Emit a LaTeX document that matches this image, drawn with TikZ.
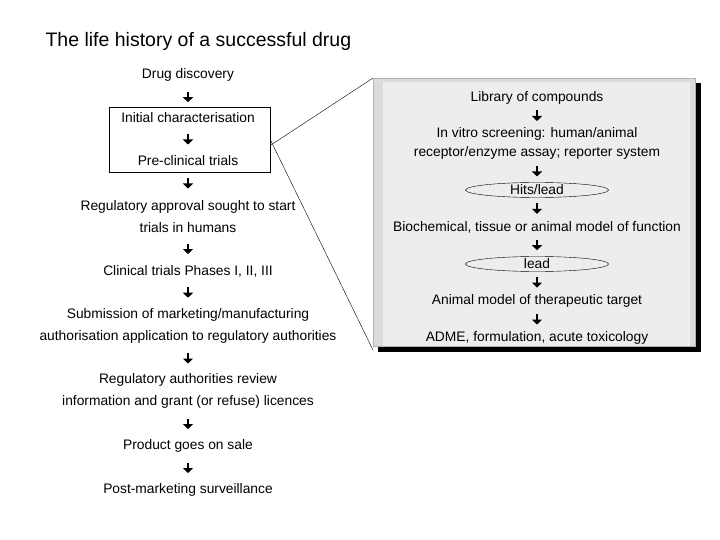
\documentclass[tikz,border=0pt]{standalone}
\usepackage{fontspec}
\setmainfont{Liberation Sans}
\usetikzlibrary{arrows.meta,shapes.geometric,calc}
\begin{document}
\begin{tikzpicture}[x=1pt,y=-1pt,
  t/.style={font=\fontsize{13.8}{22}\selectfont,align=center,inner sep=1pt},
  ell/.style={draw,ellipse,minimum width=143pt,minimum height=15pt,inner sep=0pt,font=\fontsize{13.8}{15}\selectfont}]
\tikzset{arr/.style 2 args={}}
\newcommand{\myarr}[2]{\draw[line width=2.6pt,-{Triangle[length=5pt,width=10pt]}] ($($(#1.south)!0.5!(#2.north)$)+(0,-5.5)$) -- ($($(#1.south)!0.5!(#2.north)$)+(0,5)$);}
\useasboundingbox (0,0) rectangle (720,540);
\node[anchor=west,font=\fontsize{19.5}{22}\selectfont] (title) at (42,41) {The life history of a successful drug};
% right panel
\fill[black] (378,83) rectangle (701,352);
\fill[gray!28] (373,78) rectangle (695,346);
\fill[gray!14] (383,82) rectangle (690,346);
\draw[gray!60] (373,78) rectangle (695,346);
% left box
\node[draw,minimum width=161pt,minimum height=65pt] (box) at (189.5,139.5) {};
\coordinate (pu) at (373,78);
\coordinate (pd) at (373,350);
\draw ([yshift=-6pt]box.east) -- (pu);
\draw (box.east) -- (pd);
% left column
\node[t] (l1) at (188,75) {Drug discovery};
\node[t] (l2) at (188,118) {Initial characterisation};
\node[t] (l3) at (188,161) {Pre-clinical trials};
\node[t] (l4) at (188,217) {Regulatory approval sought to start\\trials in humans};
\node[t] (l5) at (188,271) {Clinical trials Phases I, II, III};
\node[t] (l6) at (188,326) {Submission of marketing/manufacturing\\authorisation application to regulatory authorities};
\node[t] (l7) at (188,391) {Regulatory authorities review\\information and grant (or refuse) licences};
\node[t] (l8) at (188,446) {Product goes on sale};
\node[t] (l9) at (188,490) {Post-marketing surveillance};
\foreach \a/\b in {l1/l2,l2/l3,l3/l4,l4/l5,l5/l6,l6/l7,l7/l8,l8/l9}
  {\myarr{\a}{\b}}
% right column
\node[t] (r1) at (537,98) {Library of compounds};
\node[t,font=\fontsize{13.8}{19}\selectfont] (r2) at (537,143.5) {In vitro screening: human/animal\\receptor/enzyme assay; reporter system};
\node[ell] (r3) at (537,190) {Hits/lead};
\node[t] (r4) at (537,227) {Biochemical, tissue or animal model of function};
\node[ell] (r5) at (537,264) {lead};
\node[t] (r6) at (537,301) {Animal model of therapeutic target};
\node[t] (r7) at (537,338) {ADME, formulation, acute toxicology};
\foreach \a/\b in {r1/r2,r2/r3,r3/r4,r4/r5,r5/r6,r6/r7}
  {\myarr{\a}{\b}}
\end{tikzpicture}
\end{document}
